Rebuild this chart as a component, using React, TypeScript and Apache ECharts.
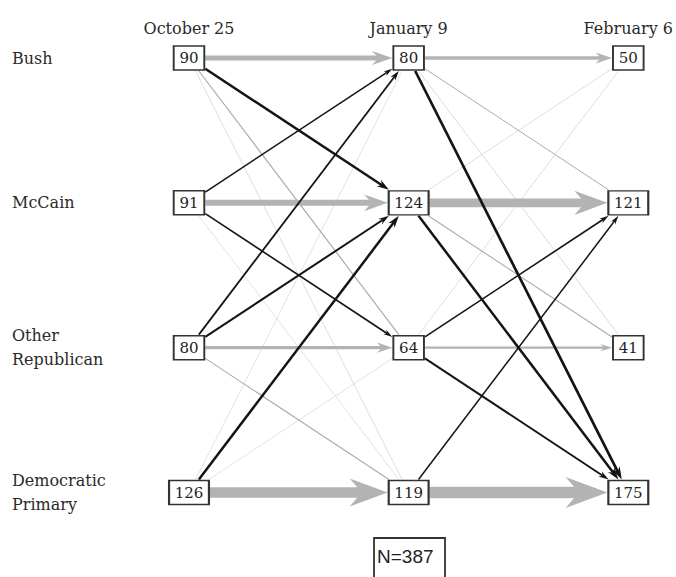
import React, { useEffect, useRef } from "react";
import * as echarts from "echarts";

const columnTitles = ["October 25", "January 9", "February 6"];
const rowNames = ["Bush", "McCain", "Other\nRepublican", "Democratic\nPrimary"];
const oct25 = [90, 91, 80, 126];
const jan9 = [80, 124, 64, 119];
const feb6 = [50, 121, 41, 175];
// flows: rows = origin category, columns = destination category
const flowOctJan = [
  [45, 25, 12, 8],
  [15, 54, 16, 6],
  [18, 20, 31, 11],
  [2, 25, 5, 94],
];
const flowJanFeb = [
  [34, 10, 9, 27],
  [8, 80, 11, 25],
  [8, 16, 21, 19],
  [0, 15, 0, 104],
];

const SERIF = "'DejaVu Serif', serif";
const boxHalfW = (v: number) => (String(v).length * 9.3 + 12) / 2;
const BOX_HALF_H = 12;

export default function App() {
  const ref = useRef<HTMLDivElement>(null);
  useEffect(() => {
    if (!ref.current) return;
    const chart = echarts.init(ref.current, null, { renderer: "svg" });
    const columns = [oct25, jan9, feb6];
    const flows = [flowOctJan, flowJanFeb];

    const edges: number[][] = [];
    flows.forEach((m, c) => {
      m.forEach((row, i) => {
        row.forEach((v, j) => {
          if (v <= 0) return;
          const kind = i === j ? 2 : v >= 15 ? 3 : v >= 10 ? 1 : 0;
          edges.push([c, i, c + 1, j, v, kind, boxHalfW(columns[c][i]), boxHalfW(columns[c + 1][j])]);
        });
      });
    });
    edges.sort((a, b) => a[5] - b[5]);

    const nodes: number[][] = [];
    columns.forEach((col, c) => col.forEach((v, r) => nodes.push([c, r, v])));
    const total = oct25.reduce((s, v) => s + v, 0);

    const colors = ["#d6d6d6", "#ababab", "#b3b3b3", "#141414"];

    chart.setOption({
      animation: false,
      grid: { left: 189, right: 46, top: 58, bottom: 84.5 },
      xAxis: {
        type: "value",
        min: 0,
        max: 2,
        interval: 1,
        position: "top",
        axisLine: { show: false },
        axisTick: { show: false },
        splitLine: { show: false },
        axisLabel: {
          formatter: (v: number) => columnTitles[v] ?? "",
          margin: 21.5,
          fontFamily: SERIF,
          fontSize: 16,
          color: "#2a2a2a",
          showMinLabel: true,
          showMaxLabel: true,
        },
      },
      yAxis: {
        type: "value",
        min: 0,
        max: 3,
        interval: 1,
        inverse: true,
        axisLine: { show: false },
        axisTick: { show: false },
        splitLine: { show: false },
        axisLabel: {
          formatter: (v: number) => rowNames[v] ?? "",
          align: "left",
          margin: 177,
          lineHeight: 24,
          fontFamily: SERIF,
          fontSize: 16,
          color: "#2a2a2a",
          showMinLabel: true,
          showMaxLabel: true,
        },
      },
      series: [
        {
          type: "custom",
          coordinateSystem: "cartesian2d",
          clip: false,
          silent: true,
          encode: { x: [0, 2], y: [1, 3] },
          data: edges,
          renderItem: (params: any, api: any) => {
            const a = api.coord([api.value(0), api.value(1)]);
            const b = api.coord([api.value(2), api.value(3)]);
            const v = api.value(4);
            const kind = api.value(5);
            const hwA = api.value(6) + 1;
            const hwB = api.value(7) + 1;
            const hh = BOX_HALF_H + 1;
            const dx = b[0] - a[0];
            const dy = b[1] - a[1];
            const len = Math.sqrt(dx * dx + dy * dy);
            const fx = (hw: number) =>
              Math.min(Math.abs(dx) > 0 ? hw / Math.abs(dx) : Infinity, Math.abs(dy) > 0 ? hh / Math.abs(dy) : Infinity);
            const tA = fx(hwA);
            const tB = 1 - fx(hwB);
            const sx = a[0] + dx * tA, sy = a[1] + dy * tA;
            const ex = a[0] + dx * tB, ey = a[1] + dy * tB;
            const w = Math.max(0.7, kind === 2 ? v * 0.11 : v * 0.1);
            const color = colors[kind];
            const ux = dx / len, uy = dy / len;
            const nx = -uy, ny = ux;
            const hasHead = kind >= 2;
            const children: any[] = [];
            if (hasHead) {
              const L = 4 + 3.3 * w;
              const H = 1.3 + 2.6 * w;
              const bx = ex - L * ux, by = ey - L * uy;
              const notchX = bx + 0.32 * L * ux, notchY = by + 0.32 * L * uy;
              children.push({
                type: "line",
                shape: { x1: sx, y1: sy, x2: notchX + ux * 0.5, y2: notchY + uy * 0.5 },
                style: { stroke: color, lineWidth: w, lineCap: "butt" },
              });
              children.push({
                type: "polygon",
                shape: {
                  points: [
                    [ex, ey],
                    [bx + (H / 2) * nx, by + (H / 2) * ny],
                    [notchX, notchY],
                    [bx - (H / 2) * nx, by - (H / 2) * ny],
                  ],
                },
                style: { fill: color, stroke: "none" },
              });
            } else {
              children.push({
                type: "line",
                shape: { x1: sx, y1: sy, x2: ex, y2: ey },
                style: { stroke: color, lineWidth: w, lineCap: "butt" },
              });
            }
            return { type: "group", children };
          },
        },
        {
          type: "scatter",
          z: 5,
          silent: true,
          data: nodes,
          symbol: "rect",
          symbolSize: (val: number[]) => [boxHalfW(val[2]) * 2, BOX_HALF_H * 2],
          itemStyle: { color: "#ffffff", borderColor: "#333333", borderWidth: 1.7, opacity: 1 },
          label: {
            show: true,
            position: "inside",
            formatter: (p: any) => String(p.value[2]),
            fontFamily: SERIF,
            fontSize: 15,
            color: "#222222",
          },
          emphasis: { disabled: true },
        },
      ],
      graphic: [
        {
          type: "rect",
          shape: { x: 374, y: 538, width: 71, height: 60 },
          style: { fill: "#ffffff", stroke: "#333333", lineWidth: 1.8 },
        },
        {
          type: "text",
          x: 377,
          y: 556,
          style: {
            text: "N=" + total,
            font: "19px 'Liberation Sans', Arial, sans-serif",
            fill: "#222222",
            verticalAlign: "middle",
            textVerticalAlign: "middle",
          },
        },
      ],
    });
    return () => chart.dispose();
  }, []);
  return <div ref={ref} style={{ position: "absolute", left: 0, top: 0, width: 676, height: 577 }} />;
}
